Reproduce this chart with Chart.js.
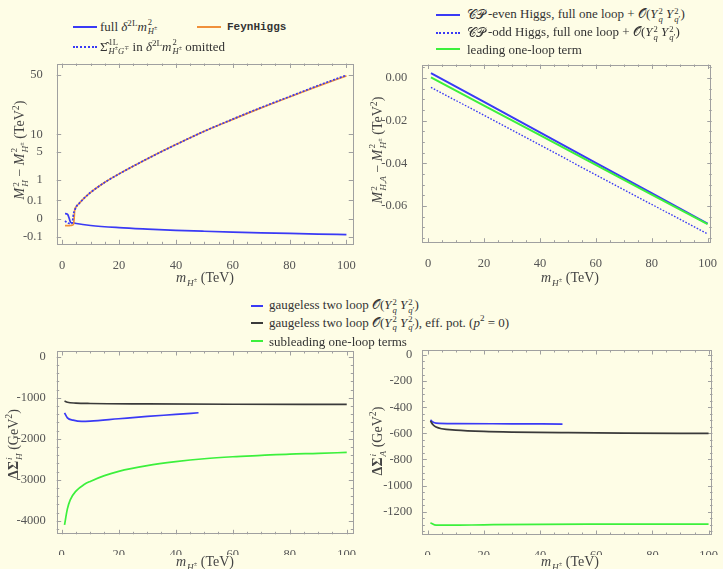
<!DOCTYPE html>
<html>
<head>
<meta charset="utf-8">
<script src="https://cdn.jsdelivr.net/npm/chart.js@4.4.1/dist/chart.umd.min.js"></script>
<style>
  body { margin: 0; background: #fefde6; }
  #page { position: relative; width: 723px; height: 569px; overflow: hidden;
          font-family: "Liberation Serif", "Times New Roman", "DejaVu Serif", serif; color: #333; }
  canvas { position: absolute; }
  .txt { position: absolute; white-space: nowrap; font-size: 13px; line-height: 1;
         transform: translateY(-50%); }
  .ttl { position: absolute; white-space: nowrap; font-size: 14px; line-height: 1; color: #444;
         transform: translate(-50%, -50%); }
  .rot { transform: translate(-50%, -50%) rotate(-90deg); }
  .ss { display: inline-block; vertical-align: -0.42em; font-size: 0.66em; line-height: 0.98;
        text-align: left; margin-left: 1px; }
  .ss sup, .txt sup, .ttl sup { font-size: 0.7em; }
  .sw { position: absolute; height: 0; }
  .mono { font-family: "Liberation Mono", "DejaVu Sans Mono", monospace; font-weight: bold; font-size: 11px; }
  .scr { font-family: "DejaVu Sans", "Noto Sans", serif; font-style: normal; margin-right: 3px; }
  .scr.o { margin-right: 0; }
</style>
</head>
<body>
<div id="page">
  <canvas id="cTL" width="362" height="225" style="left:0;top:50px"></canvas>
  <canvas id="cTR" width="361" height="225" style="left:362px;top:50px"></canvas>
  <canvas id="cBL" width="362" height="215" style="left:0;top:340px"></canvas>
  <canvas id="cBR" width="361" height="215" style="left:362px;top:340px"></canvas>

  <!-- legend, mass differences -->
  <div class="sw" style="left:73px;top:26px;width:24px;border-top:2px solid #3a3af5"></div>
  <div class="txt" style="left:100px;top:27px">full <i>δ</i><sup>2L</sup><i>m</i><span class="ss">2<br><i>H</i><sup>±</sup></span></div>
  <div class="sw" style="left:197px;top:26px;width:24px;border-top:2px solid #f0903a"></div>
  <div class="txt mono" style="left:227px;top:27px">FeynHiggs</div>
  <div class="sw" style="left:73px;top:46px;width:24px;border-top:2px dotted #3a3af5"></div>
  <div class="txt" style="left:100px;top:47px">Σ̂<span class="ss">1L<br><i>H</i><sup>±</sup><i>G</i><sup>∓</sup></span> in <i>δ</i><sup>2L</sup><i>m</i><span class="ss">2<br><i>H</i><sup>±</sup></span> omitted</div>

  <!-- legend, CP-even / CP-odd -->
  <div class="sw" style="left:436px;top:14px;width:24px;border-top:2px solid #3a3af5"></div>
  <div class="txt" style="left:467px;top:15px"><span class="scr">𝒞𝒫</span>-even Higgs, full one loop + <span class="scr o">𝒪</span>(<i>Y</i><span class="ss">2<br><i>q</i></span> <i>Y</i><span class="ss">2<br><i>q</i>′</span>)</div>
  <div class="sw" style="left:436px;top:32px;width:24px;border-top:2px dotted #3a3af5"></div>
  <div class="txt" style="left:467px;top:33px"><span class="scr">𝒞𝒫</span>-odd Higgs, full one loop + <span class="scr o">𝒪</span>(<i>Y</i><span class="ss">2<br><i>q</i></span> <i>Y</i><span class="ss">2<br><i>q</i>′</span>)</div>
  <div class="sw" style="left:436px;top:48px;width:24px;border-top:2px solid #3cf03c"></div>
  <div class="txt" style="left:467px;top:49px">leading one-loop term</div>

  <!-- legend, self-energy pieces -->
  <div class="sw" style="left:251px;top:305px;width:12px;border-top:2.5px solid #3a3af5"></div>
  <div class="txt" style="left:269px;top:306px">gaugeless two loop <span class="scr o">𝒪</span>(<i>Y</i><span class="ss">2<br><i>q</i></span> <i>Y</i><span class="ss">2<br><i>q</i>′</span>)</div>
  <div class="sw" style="left:251px;top:322px;width:12px;border-top:2.5px solid #3a3a3a"></div>
  <div class="txt" style="left:269px;top:323px">gaugeless two loop <span class="scr o">𝒪</span>(<i>Y</i><span class="ss">2<br><i>q</i></span> <i>Y</i><span class="ss">2<br><i>q</i>′</span>), eff. pot. (<i>p</i><sup>2</sup> = 0)</div>
  <div class="sw" style="left:251px;top:340px;width:12px;border-top:2.5px solid #3cf03c"></div>
  <div class="txt" style="left:269px;top:341px">subleading one-loop terms</div>

  <!-- axis titles -->
  <div class="ttl" style="left:205px;top:278px"><i>m</i><span class="ss">&nbsp;<br><i>H</i><sup>±</sup></span> (TeV)</div>
  <div class="ttl" style="left:570px;top:278px"><i>m</i><span class="ss">&nbsp;<br><i>H</i><sup>±</sup></span> (TeV)</div>
  <div class="ttl" style="left:205px;top:562px"><i>m</i><span class="ss">&nbsp;<br><i>H</i><sup>±</sup></span> (TeV)</div>
  <div class="ttl" style="left:570px;top:562px"><i>m</i><span class="ss">&nbsp;<br><i>H</i><sup>±</sup></span> (TeV)</div>
  <div class="ttl rot" style="left:20px;top:150px"><i>M</i><span class="ss">2<br><i>H</i></span> − <i>M</i><span class="ss">2<br><i>H</i><sup>±</sup></span> (TeV<sup>2</sup>)</div>
  <div class="ttl rot" style="left:378px;top:150px"><i>M</i><span class="ss">2<br><i>H</i>,<i>A</i></span> − <i>M</i><span class="ss">2<br><i>H</i><sup>±</sup></span> (TeV<sup>2</sup>)</div>
  <div class="ttl rot" style="left:14px;top:444px"><b>ΔΣ</b><span class="ss"><i>i</i><br><i>H</i></span> (GeV<sup>2</sup>)</div>
  <div class="ttl rot" style="left:378px;top:441px"><b>ΔΣ</b><span class="ss"><i>i</i><br><i>A</i></span> (GeV<sup>2</sup>)</div>
</div>

<script>
// ---- mass differences M_H^2 - M_H±^2 (TeV^2) vs m_H± (TeV)
var fullX = [1, 1.5, 2, 2.5, 3, 4, 5, 10, 20, 30, 40, 50, 60, 70, 80, 90, 100];
var fullY = [0.002, 0.0018, 0.001, 0, -0.001, -0.0013, -0.002, -0.0055, -0.0125, -0.0195, -0.027, -0.034, -0.041, -0.048, -0.055, -0.062, -0.069];
var feynX = [1, 2, 3, 3.5, 4, 4.2, 4.4, 4.7, 5, 6, 8, 10, 15, 20, 30, 40, 50, 60, 70, 80, 90, 100];
var feynY = [-0.006, -0.006, -0.0055, -0.005, -0.003, 0, 0.01, 0.022, 0.03, 0.06, 0.16, 0.3, 0.8, 1.5, 3.6, 6.8, 11.2, 16.4, 22.8, 30.2, 39, 48.8];
var omitX = [1, 1.5, 2, 2.5, 3, 3.5, 4, 4.5, 5, 6, 8, 10, 15, 20, 30, 40, 50, 60, 70, 80, 90, 100];
var omitY = [-0.0002, -0.0008, -0.0015, -0.002, -0.0022, -0.0015, 0.002, 0.012, 0.03, 0.06, 0.16, 0.3, 0.8, 1.5, 3.6, 6.8, 11.2, 16.5, 23, 30.5, 39.5, 49.5];
var tlTicks = [-0.1, 0, 0.1, 1, 5, 10, 50];
var tlLabels = ["-0.1", "0", "0.1", "1", "5", "10", "50"];

// ---- M_{H,A}^2 - M_H±^2 (TeV^2)
var lineX = [1, 20, 40, 60, 80, 100];
var cpEvenY = [0.0023, -0.0112, -0.0255, -0.0398, -0.054, -0.0683];
var cpOddY = [-0.0043, -0.0175, -0.0314, -0.0454, -0.0593, -0.0732];
var leadingY = [0.0003, -0.0129, -0.0268, -0.0408, -0.0547, -0.0686];
var trTicks = [0, -0.02, -0.04, -0.06];
var trLabels = ["0.00", "-0.02", "-0.04", "-0.06"];

// ---- Delta Sigma_H (GeV^2)
var hTwoLoopX = [1, 2, 4, 7, 10, 20, 30, 40, 48];
var hTwoLoopY = [-1370, -1490, -1545, -1577, -1570, -1512, -1455, -1407, -1366];
var hEffPotX = [1, 2, 5, 10, 30, 60, 100];
var hEffPotY = [-1080, -1110, -1130, -1140, -1150, -1158, -1163];
var hSubX = [1, 2, 3, 5, 8, 10, 15, 20, 30, 40, 50, 60, 70, 80, 90, 100];
var hSubY = [-4100, -3710, -3490, -3276, -3110, -3040, -2900, -2795, -2657, -2560, -2487, -2439, -2406, -2374, -2358, -2333];
var blTicks = [0, -1000, -2000, -3000, -4000];

// ---- Delta Sigma_A (GeV^2)
var aTwoLoopX = [1, 2, 3, 10, 30, 48];
var aTwoLoopY = [-498, -515, -521, -525, -527, -529];
var aEffPotX = [1, 2, 3, 5, 10, 20, 30, 50, 70, 100];
var aEffPotY = [-506, -536, -552, -565, -575, -585, -590, -595, -598, -600];
var aSubX = [1, 3, 8, 20, 40, 60, 100];
var aSubY = [-1285, -1303, -1303, -1300, -1296, -1295, -1295];
var brTicks = [0, -200, -400, -600, -800, -1000, -1200];

var xTicks = [0, 20, 40, 60, 80, 100];

var BLUE = '#3a3af5', ORANGE = '#f0903a', GREEN = '#3cf03c', DARK = '#3a3a3a';

// y axis that is linear in the cube root of the value
class CubeRootScale extends Chart.Scale {
  static id = 'cuberoot';
  static defaults = {};
  determineDataLimits() {
    this.min = this.options.min;
    this.max = this.options.max;
  }
  buildTicks() { return []; }
  getLabelForValue(v) { return String(v); }
  configure() {
    super.configure();
    this._lo = Math.cbrt(this.min);
    this._span = Math.cbrt(this.max) - this._lo;
  }
  getPixelForValue(v) {
    return this.getPixelForDecimal((Math.cbrt(v) - this._lo) / this._span);
  }
  getValueForPixel(p) {
    var c = this._lo + this.getDecimalForPixel(p) * this._span;
    return c * c * c;
  }
}
Chart.register(CubeRootScale);

// frame box with inward ticks on all four sides
var frameTicks = {
  id: 'frameTicks',
  beforeDatasetsDraw: function (chart, args, opts) {
    var ctx = chart.ctx, a = chart.chartArea, x = chart.scales.x, y = chart.scales.y;
    ctx.save();
    ctx.strokeStyle = '#a0a0a0';
    ctx.lineWidth = 1;
    ctx.strokeRect(Math.round(a.left) + 0.5, Math.round(a.top) + 0.5,
                   Math.round(a.width) - 1, Math.round(a.height) - 1);
    function marks(scale, vals, len) {
      vals.forEach(function (v) {
        var p = Math.round(scale.getPixelForValue(v)) + 0.5;
        ctx.beginPath();
        if (scale.isHorizontal()) {
          if (p < a.left || p > a.right) return;
          ctx.moveTo(p, a.bottom); ctx.lineTo(p, a.bottom - len);
          ctx.moveTo(p, a.top); ctx.lineTo(p, a.top + len);
        } else {
          if (p < a.top || p > a.bottom) return;
          ctx.moveTo(a.left, p); ctx.lineTo(a.left + len, p);
          ctx.moveTo(a.right, p); ctx.lineTo(a.right - len, p);
        }
        ctx.stroke();
      });
    }
    marks(x, x.ticks.map(function (t) { return t.value; }), 4.5);
    marks(x, opts.xMinor || [], 2.5);
    marks(y, y.ticks.map(function (t) { return t.value; }), 4.5);
    marks(y, opts.yMinor || [], 2.5);
    ctx.restore();
  }
};

function pts(xs, ys) {
  return xs.map(function (x, i) { return { x: x, y: ys[i] }; });
}

function series(xs, ys, color, extra) {
  var d = {
    data: pts(xs, ys),
    borderColor: color,
    borderWidth: 1.7,
    pointRadius: 0,
    fill: false,
    cubicInterpolationMode: 'monotone'
  };
  for (var k in extra) d[k] = extra[k];
  return d;
}

function every(step, lo, hi, skip) {
  var out = [];
  for (var v = lo; v <= hi + 1e-9; v += step) {
    var r = Math.round(v * 1e6) / 1e6;
    if (Math.abs(r / skip - Math.round(r / skip)) > 1e-6) out.push(r);
  }
  return out;
}

var tickFont = { family: '"Liberation Serif", "Times New Roman", serif', size: 12.5 };

function panel(id, datasets, cfg) {
  return new Chart(document.getElementById(id), {
    type: 'line',
    data: { datasets: datasets },
    plugins: [frameTicks],
    options: {
      responsive: false,
      animation: false,
      events: [],
      layout: { padding: cfg.pad },
      plugins: {
        legend: { display: false },
        tooltip: { enabled: false },
        frameTicks: { xMinor: every(5, 0, 100, 20), yMinor: cfg.yMinor }
      },
      scales: {
        x: {
          type: 'linear',
          min: cfg.xMin, max: cfg.xMax,
          grid: { display: false },
          border: { display: false },
          ticks: { font: tickFont, color: '#555', padding: cfg.xPad, maxRotation: 0,
                   callback: function (v) { return String(v); } },
          afterBuildTicks: function (s) { s.ticks = xTicks.map(function (v) { return { value: v }; }); },
          afterFit: function (s) { s.height = cfg.xH; }
        },
        y: {
          type: cfg.yType || 'linear',
          min: cfg.yMin, max: cfg.yMax,
          grid: { display: false },
          border: { display: false },
          ticks: { font: tickFont, color: '#555', padding: cfg.yPad,
                   callback: function (v, i) { return cfg.yLabels[i]; } },
          afterBuildTicks: function (s) { s.ticks = cfg.yTicks.map(function (v) { return { value: v }; }); },
          afterFit: function (s) { s.width = cfg.yW; }
        }
      }
    }
  });
}

panel('cTL', [
  series(fullX, fullY, BLUE, { order: 2 }),
  series(feynX, feynY, ORANGE, { order: 1 }),
  series(omitX, omitY, BLUE, { order: 0, borderDash: [2, 1.6] })
], {
  pad: { left: 0, top: 7.3, right: 8.7, bottom: 0 },
  yW: 56.7, xH: 30.7, xPad: 6, yPad: 6,
  xMin: -1.93, xMax: 102.4,
  yType: 'cuberoot', yMin: -0.285, yMax: 62.6,
  yTicks: tlTicks, yLabels: tlLabels, yMinor: []
});

panel('cTR', [
  series(lineX, cpEvenY, BLUE, { order: 2, borderWidth: 2, cubicInterpolationMode: 'default' }),
  series(lineX, cpOddY, BLUE, { order: 1, borderWidth: 1.4, borderDash: [1.6, 1.6], cubicInterpolationMode: 'default' }),
  series(lineX, leadingY, GREEN, { order: 0, borderWidth: 2, cubicInterpolationMode: 'default' })
], {
  pad: { left: 0, top: 10, right: 4.7, bottom: 0 },
  yW: 60.3, xH: 32.3, xPad: 6, yPad: 7,
  xMin: -2.1, xMax: 101.5,
  yMin: -0.0773, yMax: 0.0064,
  yTicks: trTicks, yLabels: trLabels, yMinor: every(0.005, -0.075, 0.005, 0.02)
});

panel('cBL', [
  series(hTwoLoopX, hTwoLoopY, BLUE, { order: 2 }),
  series(hEffPotX, hEffPotY, DARK, { order: 1 }),
  series(hSubX, hSubY, GREEN, { order: 0 })
], {
  pad: { left: 0, top: 11, right: 8.7, bottom: 0 },
  yW: 56.7, xH: 20.7, xPad: 5, yPad: 3,
  xMin: -1.75, xMax: 102.3,
  yMin: -4330, yMax: 140,
  yTicks: blTicks, yLabels: blTicks.map(String), yMinor: every(200, -4200, 0, 1000)
});

panel('cBR', [
  series(aTwoLoopX, aTwoLoopY, BLUE, { order: 2 }),
  series(aEffPotX, aEffPotY, DARK, { order: 1 }),
  series(aSubX, aSubY, GREEN, { order: 0 })
], {
  pad: { left: 0, top: 10, right: 4.7, bottom: 0 },
  yW: 60.3, xH: 20, xPad: 5, yPad: 2,
  xMin: -1.9, xMax: 101.4,
  yMin: -1378, yMax: 38,
  yTicks: brTicks, yLabels: brTicks.map(String), yMinor: every(50, -1350, 0, 200)
});
</script>
</body>
</html>
